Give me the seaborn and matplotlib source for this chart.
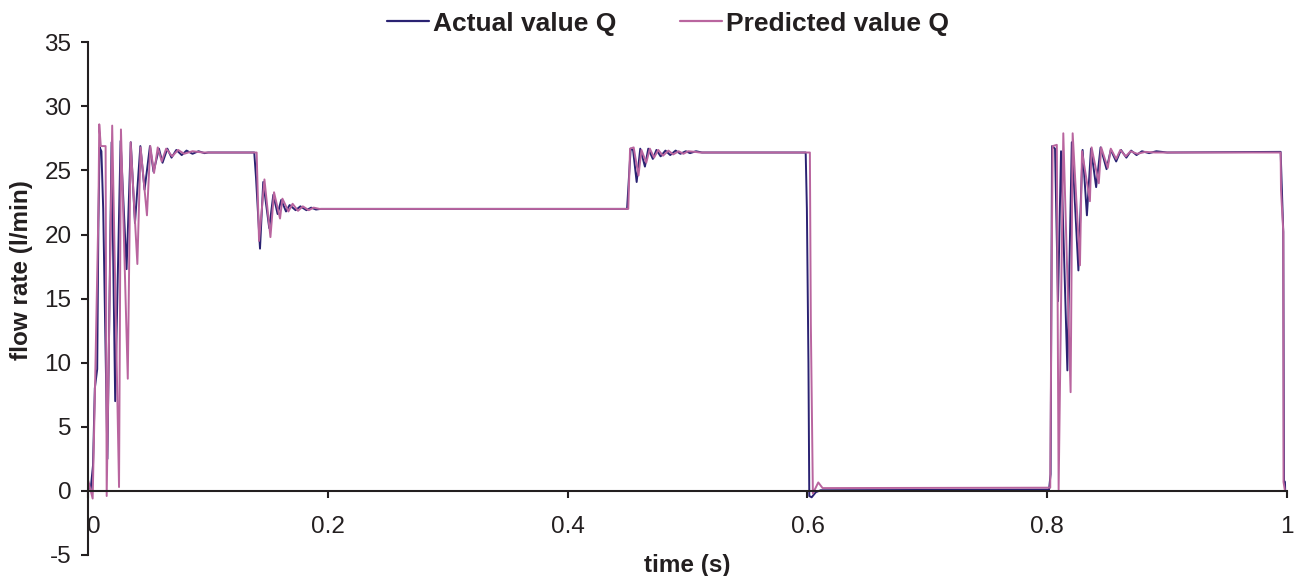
import matplotlib
matplotlib.use("Agg")
import matplotlib.pyplot as plt
import matplotlib.transforms as mtransforms
import seaborn as sns
import pandas as pd

# ---- data ----
t_actual = [0.0, 0.002, 0.004, 0.0055, 0.0075, 0.0085, 0.0095, 0.011, 0.0125, 0.016,
            0.0195, 0.0225, 0.027, 0.032, 0.0355, 0.039, 0.0435, 0.047, 0.0515, 0.0545,
            0.059, 0.062, 0.066, 0.0695, 0.0735, 0.078, 0.082, 0.087, 0.092, 0.097, 0.1,
            0.1385, 0.14, 0.1433, 0.146, 0.151, 0.1544, 0.158, 0.161, 0.165, 0.168, 0.173,
            0.177, 0.182, 0.186, 0.19, 0.194,
            0.4495, 0.4525, 0.4545, 0.4575, 0.4605, 0.4644, 0.4672, 0.471, 0.474, 0.4775,
            0.4815, 0.4855, 0.49, 0.494, 0.4985, 0.502, 0.507, 0.512,
            0.5985, 0.5995, 0.6008, 0.6015, 0.6035, 0.607, 0.611,
            0.8015, 0.8028, 0.804, 0.8065, 0.809, 0.8115, 0.8168, 0.8205, 0.826, 0.8295,
            0.8331, 0.8365, 0.8408, 0.8445, 0.8495, 0.853, 0.8575, 0.8615, 0.866, 0.87,
            0.8745, 0.879, 0.885, 0.891, 0.9,
            0.9947, 0.9969, 0.9975, 0.9983, 0.9985]
q_actual = [0.6, 0.1, 2.0, 8.0, 9.5, 21.0, 26.8, 26.5, 22.0, 2.5,
            27.2, 7.0, 27.3, 17.3, 27.2, 20.9, 26.9, 23.5, 26.9, 24.9,
            26.7, 25.6, 26.7, 26.0, 26.6, 26.2, 26.55, 26.3, 26.5, 26.35, 26.4,
            26.4, 24.4, 18.9, 24.1, 20.5, 23.1, 21.6, 22.7, 21.8, 22.3, 21.9,
            22.2, 21.9, 22.1, 21.95, 22.0,
            22.0, 26.7, 26.6, 24.1, 26.7, 25.3, 26.7, 25.9, 26.6, 26.1,
            26.55, 26.2, 26.55, 26.3, 26.5, 26.35, 26.5, 26.4,
            26.4, 22.0, 10.0, -0.4, -0.5, -0.1, 0.05,
            0.1, 1.3, 26.9, 26.7, 14.8, 26.5, 9.4, 27.2, 17.2, 26.6,
            21.5, 26.7, 23.7, 26.8, 25.1, 26.6, 25.7, 26.6, 26.0, 26.55,
            26.2, 26.5, 26.35, 26.5, 26.4,
            26.45, 20.2, 0.8, 0.7, 0.0]

t_pred = [0.0, 0.0037, 0.0056, 0.0085, 0.0092, 0.0105, 0.0145, 0.0154, 0.020, 0.0257,
          0.0273, 0.033, 0.0354, 0.041, 0.0437, 0.049, 0.0518, 0.0549, 0.058, 0.0613,
          0.065, 0.07, 0.075, 0.08, 0.087, 0.0955,
          0.1405, 0.1425, 0.147, 0.152, 0.155, 0.16, 0.162, 0.167, 0.1705, 0.175,
          0.179, 0.184, 0.188, 0.193,
          0.4505, 0.452, 0.455, 0.459, 0.4615, 0.4655, 0.4685, 0.472, 0.4755, 0.4795,
          0.484, 0.488, 0.4925, 0.4965, 0.5005, 0.506, 0.51,
          0.602, 0.6028, 0.6045, 0.609, 0.6126,
          0.8025, 0.8035, 0.8045, 0.808, 0.8095, 0.8134, 0.8195, 0.8212, 0.8273, 0.829,
          0.8356, 0.837, 0.843, 0.845, 0.8505, 0.853, 0.8575, 0.861, 0.8655, 0.8695,
          0.875, 0.882, 0.89,
          0.9947, 0.9950, 0.9969, 0.9971, 0.9983]
q_pred = [0.8, -0.6, 7.7, 21.8, 28.6, 26.9, 26.9, -0.4, 28.5, 0.3,
          28.2, 8.75, 27.2, 17.7, 26.8, 21.5, 26.9, 24.8, 26.8, 25.7,
          26.7, 26.1, 26.6, 26.3, 26.5, 26.4,
          26.4, 19.5, 24.3, 19.8, 23.3, 21.25, 22.8, 21.8, 22.4, 21.85,
          22.2, 21.9, 22.1, 22.0,
          22.0, 26.7, 26.8, 24.6, 26.6, 25.6, 26.7, 26.0, 26.6, 26.15,
          26.55, 26.25, 26.5, 26.3, 26.5, 26.45, 26.4,
          26.4, 13.0, -0.2, 0.66, 0.22,
          0.25, 15.0, 26.9, 27.0, 0.1, 27.9, 7.7, 27.9, 17.6, 26.5,
          22.6, 26.8, 24.0, 26.8, 25.2, 26.7, 25.9, 26.6, 26.1, 26.5,
          26.3, 26.45, 26.4,
          26.4, 23.5, 20.2, 0.7, 0.0]

series_names = ["Actual value Q", "Predicted value Q"]
y_ticks = [-5, 0, 5, 10, 15, 20, 25, 30, 35]
x_ticks = [0, 0.2, 0.4, 0.6, 0.8, 1.0]
x_tick_labels = ["0", "0.2", "0.4", "0.6", "0.8", "1"]

df = pd.concat([
    pd.DataFrame({"t": t_actual, "q": q_actual, "series": series_names[0]}),
    pd.DataFrame({"t": t_pred, "q": q_pred, "series": series_names[1]}),
], ignore_index=True)

# ---- style ----
sns.set_theme(style="white")
plt.rcParams["font.family"] = ["Liberation Sans", "DejaVu Sans"]
TXT = "#231f20"
palette = {series_names[0]: "#2a2272", series_names[1]: "#b9659f"}

fig = plt.figure(figsize=(13.05, 5.76), dpi=100)
ax = fig.add_axes([0.0676, 0.0365, 0.9186, 0.8901])

sns.lineplot(data=df, x="t", y="q", hue="series", hue_order=series_names,
             palette=palette, estimator=None, sort=False, linewidth=1.4,
             ax=ax, legend=False)

ax.set_xlim(0, 1.0)
ax.set_ylim(-5, 35)
ax.set_yticks(y_ticks)
ax.set_yticklabels([str(v) for v in y_ticks])
ax.set_xticks(x_ticks)
ax.set_xticklabels(x_tick_labels)

for s in ["top", "right"]:
    ax.spines[s].set_visible(False)
ax.spines["bottom"].set_position(("data", 0))
for s in ["left", "bottom"]:
    ax.spines[s].set_color(TXT)
    ax.spines[s].set_linewidth(1.5)

ax.tick_params(axis="x", direction="out", length=5, width=1.5, color=TXT,
               pad=13, labelsize=17.5, labelcolor=TXT, bottom=True)
ax.tick_params(axis="y", direction="out", length=5, width=1.5, color=TXT,
               pad=7, labelsize=17.5, labelcolor=TXT, left=True)

# shift the "0" x tick label slightly to the right as in the reference
lbl0 = ax.get_xticklabels()[0]
lbl0.set_transform(lbl0.get_transform() +
                   mtransforms.ScaledTranslation(6 / 100, 0, fig.dpi_scale_trans))

ax.set_xlabel("time (s)", fontsize=17.5, fontweight="bold", color=TXT)
ax.xaxis.set_label_coords(0.5, 0.002)
ax.set_ylabel("flow rate (l/min)", fontsize=17.5, fontweight="bold", color=TXT)
ax.yaxis.set_label_coords(-0.046, 0.555)

handles = [plt.Line2D([], [], color=palette[n], linewidth=1.6) for n in series_names]
fig.legend(handles, series_names, loc="center", bbox_to_anchor=(0.512, 0.959),
           ncol=2, frameon=False, handlelength=1.6, handletextpad=0.15,
           columnspacing=2.4, prop={"size": 19, "weight": "bold"},
           labelcolor=TXT)

fig.savefig("out.png", dpi=100)
